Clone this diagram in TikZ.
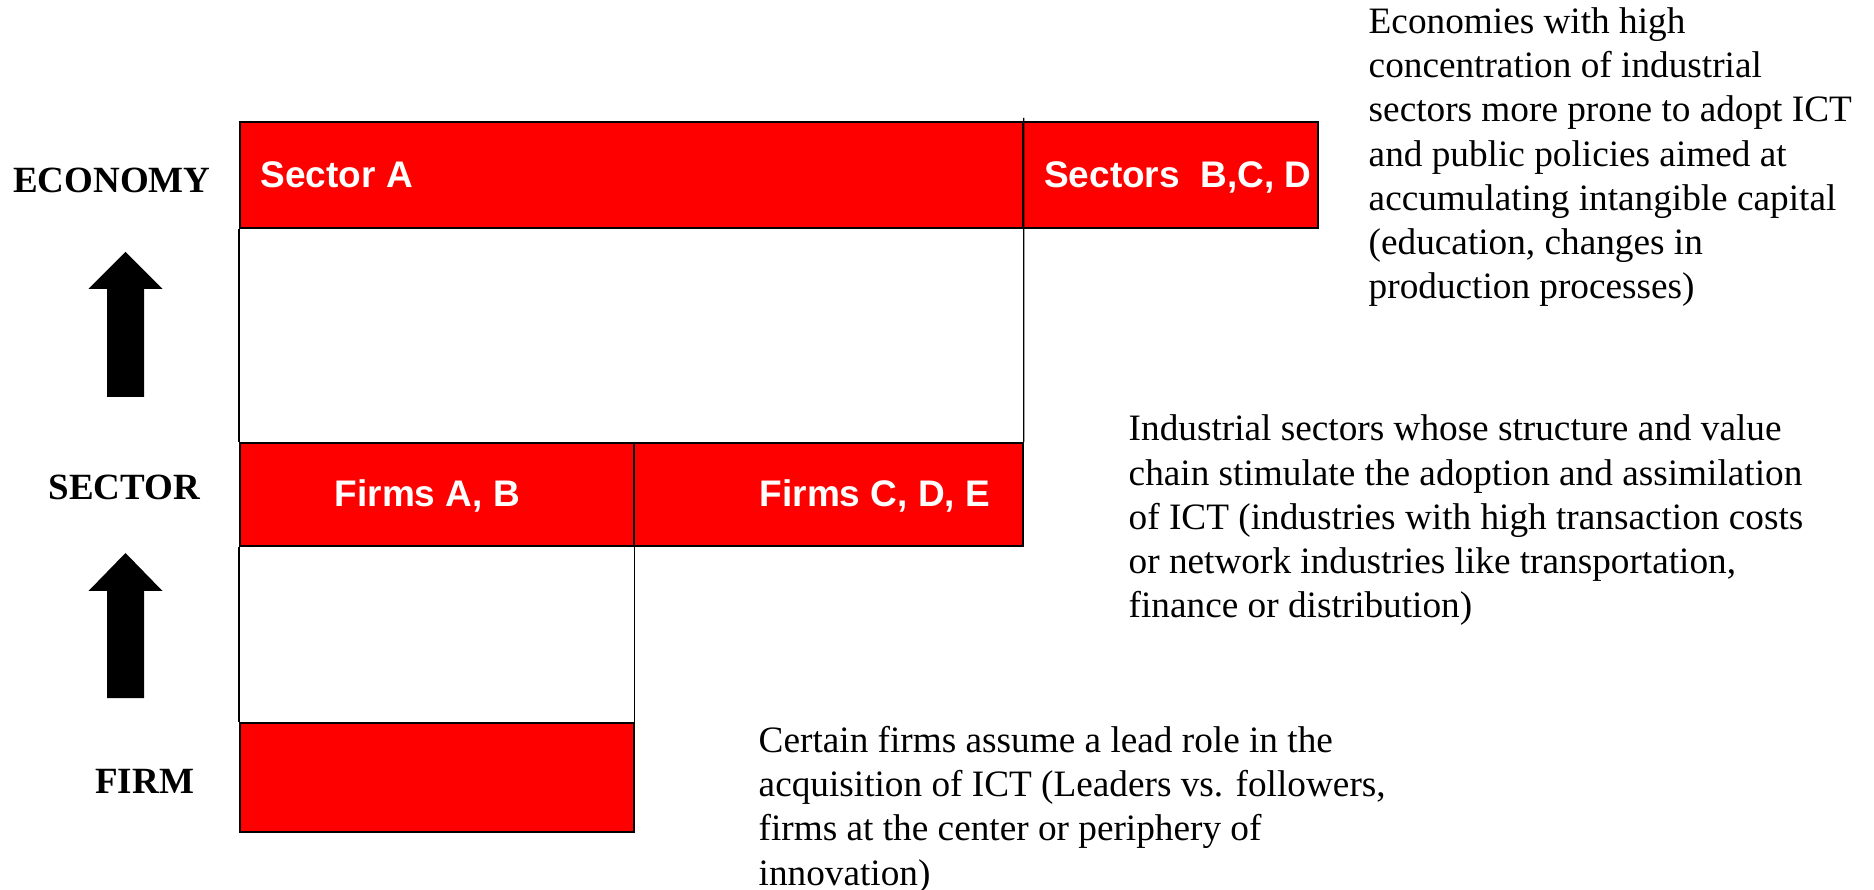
\documentclass[tikz,border=0pt]{standalone}
\usepackage{fontspec}
\setmainfont{Liberation Serif}
\setsansfont{Liberation Sans}

\begin{document}
\begin{tikzpicture}[
    bar/.style={draw, fill=red, line width=0.5pt, inner sep=0pt, anchor=north west},
    bartext/.style={text=white, inner sep=0pt, anchor=base west, font=\sffamily\bfseries\fontsize{10.53}{12.66}\selectfont},
    level/.style={inner sep=0pt, anchor=base west, font=\bfseries\fontsize{10.53}{12.66}\selectfont},
    note/.style={inner sep=0pt, anchor=base west, align=left, font=\fontsize{10.6}{12.6}\selectfont}
]
    \useasboundingbox (0,0) rectangle (18.74,8.89);

    % Barras
    \node[bar, minimum width=7.83cm, minimum height=1.06cm] (secA) at (2.39,7.68) {};
    \node[bar, minimum width=2.95cm, minimum height=1.06cm] (secBCD) at (10.22,7.68) {};
    \node[bar, minimum width=3.94cm, minimum height=1.03cm] (firmsAB) at (2.39,4.47) {};
    \node[bar, minimum width=3.89cm, minimum height=1.03cm] (firmsCDE) at (6.33,4.47) {};
    \node[bar, minimum width=3.94cm, minimum height=1.09cm] (firm) at (2.39,1.67) {};

    % Linhas verticais
    \draw[line width=0.4pt] ([yshift=0.03cm]secA.north east) -- (firmsCDE.north east);
    \draw[line width=0.4pt] (secA.south west) -- (firmsAB.north west);
    \draw[line width=0.4pt] (firmsAB.south west) -- (firm.north west);
    \draw[line width=0.4pt] (firmsAB.south east) -- (firm.north east);

    % Textos nas barras
    \node[bartext] (tA) at (2.60,7.01) {Sector A};
    \node[bartext] (tBCD) at (10.435,7.01) {Sectors\ \ B,C, D};
    \node[bartext] (tAB) at (3.34,3.82) {Firms A, B};
    \node[bartext] (tCDE) at (7.59,3.82) {Firms C, D, E};

    % Niveis
    \node[level] (economy) at (0.125,6.96) {ECONOMY};
    \node[level] (sector) at (0.478,3.89) {SECTOR};
    \node[level] (firmlabel) at (0.946,0.96) {FIRM};

    % Setas
    \foreach \ytip/\yhead/\ybot in {6.37/6.00/4.92, 3.36/2.98/1.91}
        \fill (1.255,\ytip) -- (1.625,\yhead) -- (1.44,\yhead) -- (1.44,\ybot)
            -- (1.07,\ybot) -- (1.07,\yhead) -- (0.885,\yhead) -- cycle;

    % Comentarios (ancorados na ultima linha)
    \node[note] (noteEconomy) at (13.68,5.90) {Economies with high\\
        concentration of industrial\\
        sectors more prone to adopt ICT\\
        and public policies aimed at\\
        accumulating intangible capital\\
        (education, changes in\\
        production processes)};
    \node[note] (noteSector) at (11.28,2.71) {Industrial sectors whose structure and value\\
        chain stimulate the adoption and assimilation\\
        of ICT (industries with high transaction costs\\
        or network industries like transportation,\\
        finance or distribution)};
    \node[note] (noteFirm) at (7.58,0.04) {Certain firms assume a lead role in the\\
        acquisition of ICT (Leaders vs. followers,\\
        firms at the center or periphery of\\
        innovation)};
\end{tikzpicture}
\end{document}
